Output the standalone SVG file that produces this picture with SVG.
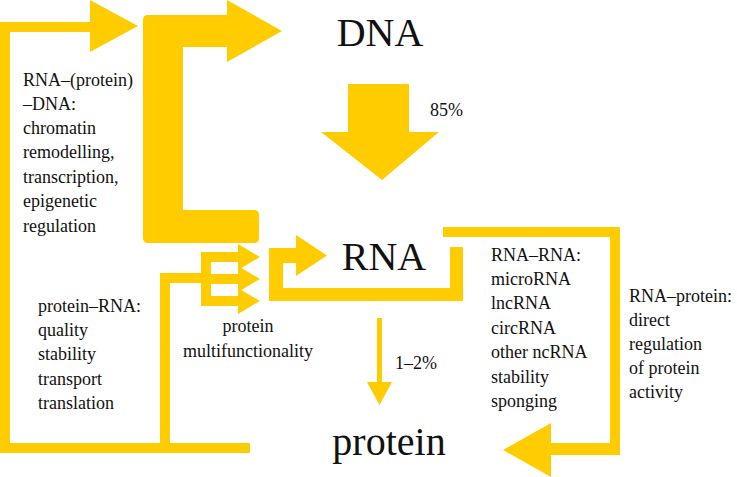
<svg xmlns="http://www.w3.org/2000/svg" width="737" height="477" viewBox="0 0 737 477">
<style>
.y{fill:#FFCC00;stroke:none}
.big{font-family:"Liberation Serif","Times New Roman",serif;font-size:40px;fill:#111}
.lbl{font-family:"Liberation Serif","Times New Roman",serif;font-size:18px;fill:#111}
</style>
<rect width="737" height="477" fill="#fff"/>
<g id="connectors">
  <!-- outer left loop: protein -> DNA -->
  <path class="y" d="M0,22 H90 V0 L138,26 L90,52 V32 H10 V443 H250 V453 H0 Z"/>
  <!-- inner protein-RNA branch -->
  <path class="y" d="M160,273 H201 V283 H170 V445 H160 Z"/>
  <!-- E-shaped protein multifunctionality arrows -->
  <rect class="y" x="201" y="252" width="10" height="54"/>
  <rect class="y" x="201" y="252" width="38" height="10"/>
  <rect class="y" x="201" y="274" width="38" height="10"/>
  <rect class="y" x="201" y="296" width="38" height="10"/>
  <path class="y" d="M238,244 L260,257 L238,270 Z"/>
  <path class="y" d="M238,266 L260,279 L238,292 Z"/>
  <path class="y" d="M238,288 L260,301 L238,314 Z"/>
  <!-- big RNA-(protein)-DNA L arrow -->
  <path class="y" d="M148,15 H227 V0 L282,31 L227,62 V47 H183 V210 H254 Q259,210 259,215 V238 Q259,243 254,243 H148 Q143,243 143,238 V20 Q143,15 148,15 Z"/>
  <!-- DNA -> RNA 85% arrow -->
  <path class="y" d="M348,84 H409 V132 H439 L382,180 L321,132 H348 Z"/>
  <!-- RNA self loop (RNA-RNA) -->
  <path class="y" d="M296,248 V235 L327,255.5 L296,276 V263 H283 V288 H450 V247 H463 V301 H269 V248 Z"/>
  <!-- RNA -> protein 1-2% arrow -->
  <path class="y" d="M377,318 H382 V382 H392 L379.5,405 L367,382 H377 Z"/>
  <!-- RNA-protein outer bracket -->
  <path class="y" d="M443,227 H620 V455 H551 V477 L503,450 L551,423 V443 H610 V237 H443 Z"/>
</g>
<g id="node-DNA"><text class="big" x="380" y="46" text-anchor="middle">DNA</text></g>
<g id="node-RNA"><text class="big" x="384" y="270" text-anchor="middle">RNA</text></g>
<g id="node-protein"><text class="big" x="389" y="455" text-anchor="middle" font-size="41">protein</text></g>
<g id="labels">
  <text class="lbl" x="430" y="116">85%</text>
  <text class="lbl" x="395" y="369" font-size="17">1–2%</text>
  <text class="lbl" x="23" y="86">RNA–(protein)</text>
  <text class="lbl" x="23" y="110">–DNA:</text>
  <text class="lbl" x="23" y="134">chromatin</text>
  <text class="lbl" x="23" y="158">remodelling,</text>
  <text class="lbl" x="23" y="183">transcription,</text>
  <text class="lbl" x="23" y="207">epigenetic</text>
  <text class="lbl" x="23" y="232">regulation</text>
  <text class="lbl" x="38" y="312">protein–RNA:</text>
  <text class="lbl" x="38" y="336">quality</text>
  <text class="lbl" x="38" y="360">stability</text>
  <text class="lbl" x="38" y="385">transport</text>
  <text class="lbl" x="38" y="409">translation</text>
  <text class="lbl" x="248" y="332" text-anchor="middle">protein</text>
  <text class="lbl" x="248" y="357" text-anchor="middle">multifunctionality</text>
  <text class="lbl" x="491" y="261">RNA–RNA:</text>
  <text class="lbl" x="491" y="285">microRNA</text>
  <text class="lbl" x="491" y="309">lncRNA</text>
  <text class="lbl" x="491" y="334">circRNA</text>
  <text class="lbl" x="491" y="358">other ncRNA</text>
  <text class="lbl" x="491" y="383">stability</text>
  <text class="lbl" x="491" y="407">sponging</text>
  <text class="lbl" x="629" y="302">RNA–protein:</text>
  <text class="lbl" x="629" y="326">direct</text>
  <text class="lbl" x="629" y="350">regulation</text>
  <text class="lbl" x="629" y="374">of protein</text>
  <text class="lbl" x="629" y="398">activity</text>
</g>
</svg>
